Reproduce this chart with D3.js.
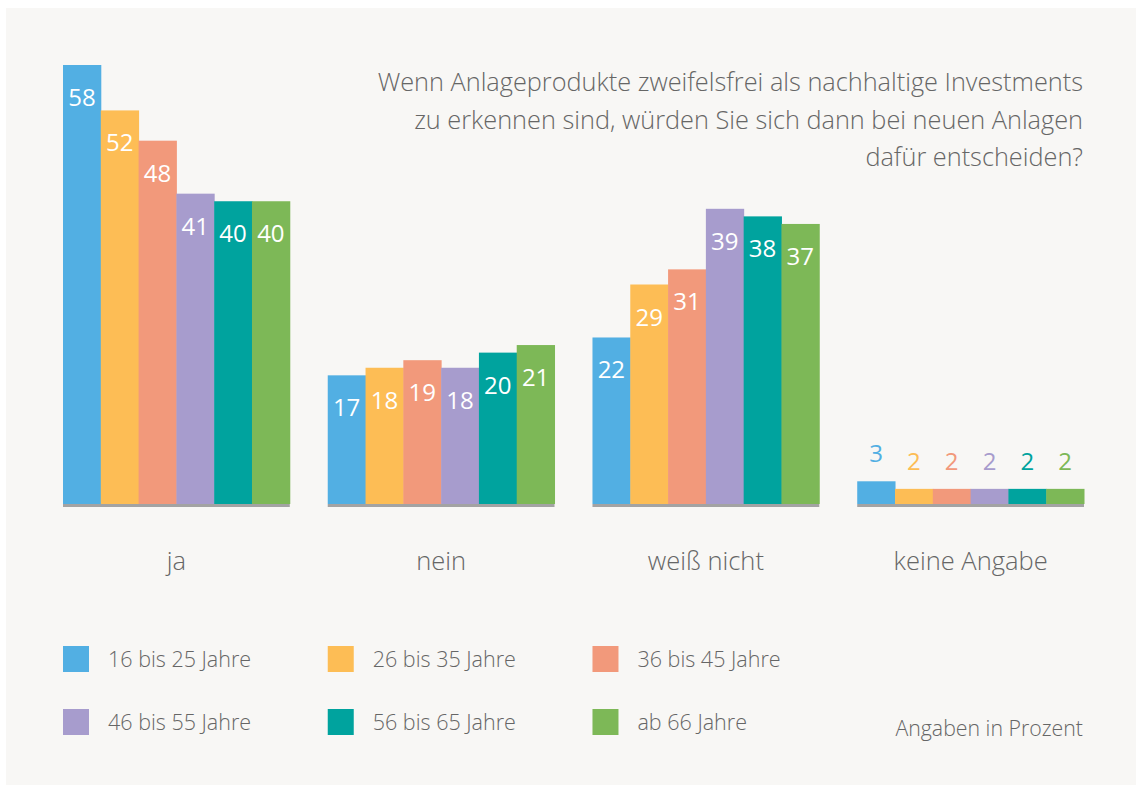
<!DOCTYPE html>
<html>
<head>
<meta charset="utf-8">
<script src="https://cdn.jsdelivr.net/npm/d3@7"></script>
<style>
  body { margin: 0; background: #ffffff; }
  svg text { font-family: "Open Sans", Lato, sans-serif; font-weight: 300; }
</style>
</head>
<body>
<div id="chart"></div>
<script>
var categories = ["ja", "nein", "weiß nicht", "keine Angabe"];
var ageGroups = ["16 bis 25 Jahre", "26 bis 35 Jahre", "36 bis 45 Jahre", "46 bis 55 Jahre", "56 bis 65 Jahre", "ab 66 Jahre"];
var colors = ["#52afe3", "#fdbd55", "#f2997b", "#a79ccd", "#00a39e", "#7db857"];
var values = [
  [58, 52, 48, 41, 40, 40],
  [17, 18, 19, 18, 20, 21],
  [22, 29, 31, 39, 38, 37],
  [3, 2, 2, 2, 2, 2]
];
var titleLines = [
  "Wenn Anlageprodukte zweifelsfrei als nachhaltige Investments",
  "zu erkennen sind, würden Sie sich dann bei neuen Anlagen",
  "dafür entscheiden?"
];
var unitNote = "Angaben in Prozent";

var width = 1137, height = 785;
var textColor = "#666666";

var svg = d3.select("#chart").append("svg")
  .attr("width", width)
  .attr("height", height);

svg.append("rect")
  .attr("x", 6).attr("y", 8)
  .attr("width", 1130).attr("height", 777)
  .attr("fill", "#f8f7f5");

var x0 = d3.scaleBand()
  .domain(categories)
  .range([63, 1084])
  .paddingInner(0.1434);

var x1 = d3.scaleBand()
  .domain(d3.range(ageGroups.length))
  .range([0, x0.bandwidth()]);

var y = d3.scaleLinear()
  .domain([0, 58])
  .range([504, 65]);

var groups = svg.selectAll("g.group")
  .data(categories)
  .enter().append("g")
  .attr("class", "group")
  .attr("transform", function(d) { return "translate(" + x0(d) + ",0)"; });

groups.selectAll("rect")
  .data(function(d, i) { return values[i]; })
  .enter().append("rect")
  .attr("x", function(d, i) { return x1(i); })
  .attr("y", function(d) { return y(d); })
  .attr("width", x1.bandwidth() + 0.5)
  .attr("height", function(d) { return y(0) - y(d); })
  .attr("fill", function(d, i) { return colors[i]; });

// value labels: inside the bar, or above it when the bar is too short
groups.selectAll("text.val")
  .data(function(d, i) { return values[i]; })
  .enter().append("text")
  .attr("class", "val")
  .attr("x", function(d, i) { return x1(i) + x1.bandwidth() / 2; })
  .attr("y", function(d) { return d < 10 ? y(d) - 19 : y(d) + 41; })
  .attr("text-anchor", "middle")
  .attr("font-size", "24px")
  .style("font-weight", 400)
  .attr("fill", function(d, i) { return d < 10 ? colors[i] : "#ffffff"; })
  .text(function(d) { return d; });

// baseline under each group
groups.append("rect")
  .attr("x", 0)
  .attr("y", y(0))
  .attr("width", x0.bandwidth())
  .attr("height", 3)
  .attr("fill", "#a3a3a3");

groups.append("text")
  .attr("x", x0.bandwidth() / 2)
  .attr("y", 570)
  .attr("text-anchor", "middle")
  .attr("font-size", "25.5px")
  .attr("fill", textColor)
  .text(function(d) { return d; });

svg.selectAll("text.title")
  .data(titleLines)
  .enter().append("text")
  .attr("class", "title")
  .attr("x", 1083)
  .attr("y", function(d, i) { return 91 + i * 37.5; })
  .attr("text-anchor", "end")
  .attr("font-size", "25.3px")
  .attr("fill", textColor)
  .text(function(d) { return d; });

// legend, 3 columns x 2 rows
var legend = svg.selectAll("g.legend")
  .data(ageGroups)
  .enter().append("g")
  .attr("class", "legend")
  .attr("transform", function(d, i) {
    return "translate(" + x0(categories[i % 3]) + "," + (646 + Math.floor(i / 3) * 63) + ")";
  });

legend.append("rect")
  .attr("width", 26)
  .attr("height", 26)
  .attr("fill", function(d, i) { return colors[i]; });

legend.append("text")
  .attr("x", 45)
  .attr("y", 21)
  .attr("font-size", "21.5px")
  .attr("fill", textColor)
  .text(function(d) { return d; });

svg.append("text")
  .attr("x", 1083)
  .attr("y", 736)
  .attr("text-anchor", "end")
  .attr("font-size", "21.3px")
  .attr("fill", textColor)
  .text(unitNote);
</script>
</body>
</html>
